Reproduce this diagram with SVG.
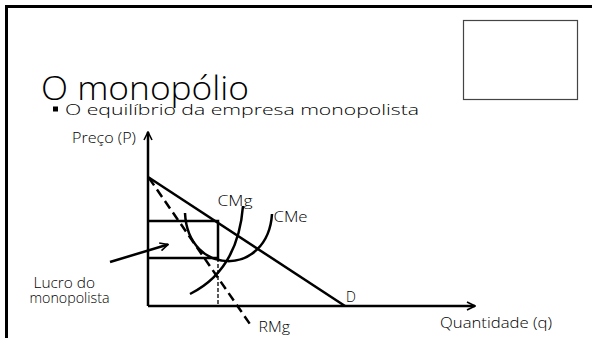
<svg xmlns="http://www.w3.org/2000/svg" width="592" height="338" viewBox="0 0 592 338">
<style>
text{font-family:"Open Sans","Liberation Sans",Arial,sans-serif;font-weight:300;fill:#000}
.lbl{font-size:14px}
.ln{fill:none;stroke:#000;stroke-width:2.5}
</style>
<defs>
<marker id="ah" viewBox="0 0 10 10" refX="9" refY="5" markerWidth="4" markerHeight="4" orient="auto" markerUnits="strokeWidth">
<path d="M1,1 L9,5 L1,9" fill="none" stroke="#000" stroke-width="1.6"/>
</marker>
</defs>
<rect width="592" height="338" fill="#fff"/>
<path d="M6.5,338 V6.5 H592" fill="none" stroke="#000" stroke-width="3"/>
<rect x="463.5" y="20.5" width="114" height="79" fill="none" stroke="#444" stroke-width="1.2"/>
<text x="41" y="100" font-size="32.5" textLength="208" lengthAdjust="spacingAndGlyphs">O monopólio</text>
<rect x="53" y="106.5" width="5" height="5" fill="#000"/>
<text x="65" y="114.5" font-size="14.5" textLength="354" lengthAdjust="spacingAndGlyphs">O equilíbrio da empresa monopolista</text>
<text x="72" y="142.5" class="lbl" font-size="13" textLength="64" lengthAdjust="spacingAndGlyphs">Preço (P)</text>
<g id="connectors">
<path class="ln" d="M148,306 V132" stroke-width="2.7" marker-end="url(#ah)"/>
<path class="ln" d="M148,306 H475" stroke-width="2.7" marker-end="url(#ah)"/>
<path class="ln" d="M110,262 L168,244.5" marker-end="url(#ah)"/>
</g>
<g id="demand"><path class="ln" d="M148,177 L345,306" stroke-width="2.2"/></g>
<g id="profit"><path class="ln" d="M148,221 H218 V258 H148"/></g>
<g id="qline"><path d="M218,258 V306" fill="none" stroke="#000" stroke-width="1.3" stroke-dasharray="4,2"/></g>
<g id="rmg"><path class="ln" d="M149,178 L252,327" stroke-dasharray="9,5"/></g>
<g id="cmg"><path class="ln" d="M190,294 Q238,270 243,206"/></g>
<g id="cme"><path class="ln" d="M185,213 C188,277 268,277 272,214"/></g>
<text x="217.5" y="206" class="lbl" textLength="35" lengthAdjust="spacingAndGlyphs">CMg</text>
<text x="273.5" y="222" class="lbl" textLength="34" lengthAdjust="spacingAndGlyphs">CMe</text>
<text x="346" y="301.5" class="lbl">D</text>
<text x="258.5" y="331.5" class="lbl" textLength="31.5" lengthAdjust="spacingAndGlyphs">RMg</text>
<text x="440" y="328" class="lbl" textLength="112" lengthAdjust="spacingAndGlyphs">Quantidade (q)</text>
<text x="33.5" y="288.3" class="lbl" font-size="13.5" textLength="61.5" lengthAdjust="spacingAndGlyphs">Lucro do</text>
<text x="29.5" y="303.3" class="lbl" font-size="13.5" textLength="80" lengthAdjust="spacingAndGlyphs">monopolista</text>
</svg>
